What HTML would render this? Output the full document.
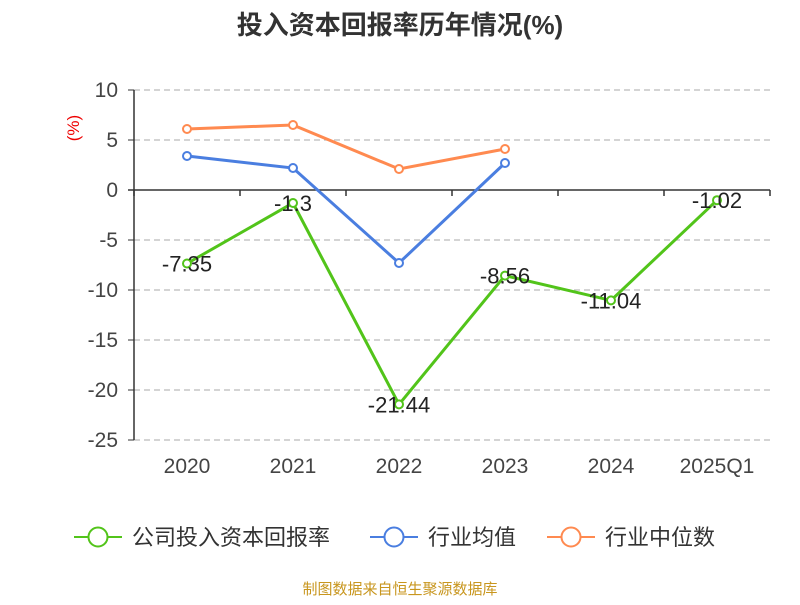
<!DOCTYPE html>
<html><head><meta charset="utf-8"><style>
body{margin:0;background:#fff;font-family:"Liberation Sans","Noto Sans CJK SC",sans-serif;}
</style></head><body>
<svg width="800" height="600" xmlns="http://www.w3.org/2000/svg" font-family="Liberation Sans, Noto Sans CJK SC, sans-serif">
<text x="400" y="34" text-anchor="middle" font-size="26" font-weight="bold" fill="#333">投入资本回报率历年情况(%)</text>
<text x="79" y="128" font-size="17" fill="#e00" transform="rotate(-90 79 128)" text-anchor="middle">(%)</text>
<g id="grid"></g><g id="axes"></g><g id="series"></g>
<g>
<g><line x1="74" y1="537" x2="122" y2="537" stroke="#52c41a" stroke-width="2"/><circle cx="98" cy="537" r="9.5" fill="#fff" stroke="#52c41a" stroke-width="2"/><text x="132" y="545" font-size="22" fill="#333">公司投入资本回报率</text></g>
<g><line x1="370" y1="537" x2="418" y2="537" stroke="#4a7ee0" stroke-width="2"/><circle cx="394" cy="537" r="9.5" fill="#fff" stroke="#4a7ee0" stroke-width="2"/><text x="428" y="545" font-size="22" fill="#333">行业均值</text></g>
<g><line x1="547" y1="537" x2="595" y2="537" stroke="#ff8a50" stroke-width="2"/><circle cx="571" cy="537" r="9.5" fill="#fff" stroke="#ff8a50" stroke-width="2"/><text x="605" y="545" font-size="22" fill="#333">行业中位数</text></g>
</g>
<text x="400" y="594" text-anchor="middle" font-size="15" fill="#c8961e">制图数据来自恒生聚源数据库</text>
</svg>
<script>
const categories=["2020","2021","2022","2023","2024","2025Q1"];
const roic=[-7.35,-1.3,-21.44,-8.56,-11.04,-1.02];
const industryAvg=[3.4,2.2,-7.3,2.7,null,null];
const industryMedian=[6.1,6.5,2.1,4.1,null,null];
const yTicks=[10,5,0,-5,-10,-15,-20,-25];
const NS="http://www.w3.org/2000/svg";
const x0=134,band=106,yTop=90,yMax=10,yMin=-25,yBot=440;
function X(i){return x0+band*(i+0.5);}
function Y(v){return yTop+(yMax-v)*(yBot-yTop)/(yMax-yMin);}
function mk(tag,attrs,parent){const e=document.createElementNS(NS,tag);for(const k in attrs)e.setAttribute(k,attrs[k]);parent.appendChild(e);return e;}
const grid=document.getElementById('grid'),axes=document.getElementById('axes'),ser=document.getElementById('series');
yTicks.forEach(t=>{
 if(t!==0){const l=mk('line',{x1:x0,x2:770,y1:Y(t),y2:Y(t),stroke:'#bbb','stroke-dasharray':'6,4','stroke-width':1.2},grid);
 
 }
 const tx=mk('text',{x:118,y:Y(t)+7,'text-anchor':'end','font-size':21,fill:'#444'},axes);tx.textContent=t;
 
 
 const tk=mk('line',{x1:x0-6,x2:x0,y1:Y(t),y2:Y(t),stroke:'#333'},axes);
 
 
});
const ya=mk('line',{x1:x0,x2:x0,y1:yTop,y2:yBot,stroke:'#333','stroke-width':1.5},axes);


const xa=mk('line',{x1:x0-6,x2:770,y1:Y(0),y2:Y(0),stroke:'#333','stroke-width':1.5},axes);


for(let i=0;i<=categories.length;i++){const tk=mk('line',{x1:x0+band*i,x2:x0+band*i,y1:Y(0),y2:Y(0)+6,stroke:'#333','stroke-width':1.5},axes);
 
 }
categories.forEach((c,i)=>{const t=mk('text',{x:X(i),y:473,'text-anchor':'middle','font-size':21,fill:'#444'},axes);t.textContent=c;
 
 });
function series(vals,color,name,labels){
 const pts=vals.map((v,i)=>v==null?null:[X(i),Y(v)]).filter(p=>p);
 const pl=mk('polyline',{points:pts.map(p=>p.join(',')).join(' '),fill:'none',stroke:color,'stroke-width':3},ser);
 
 
 vals.forEach((v,i)=>{if(v==null)return;
  const c=mk('circle',{cx:X(i),cy:Y(v),r:4,fill:'#fff',stroke:color,'stroke-width':2},ser);
  
  
  if(labels){const t=mk('text',{x:X(i),y:Y(v)+8,'text-anchor':'middle','font-size':22,fill:'#222'},ser);t.textContent=v;
   
   }
 });
}
series(industryMedian,'#ff8a50','industry-median',false);
series(industryAvg,'#4a7ee0','industry-avg',false);
series(roic,'#52c41a','roic',true);
</script>
</body></html>
